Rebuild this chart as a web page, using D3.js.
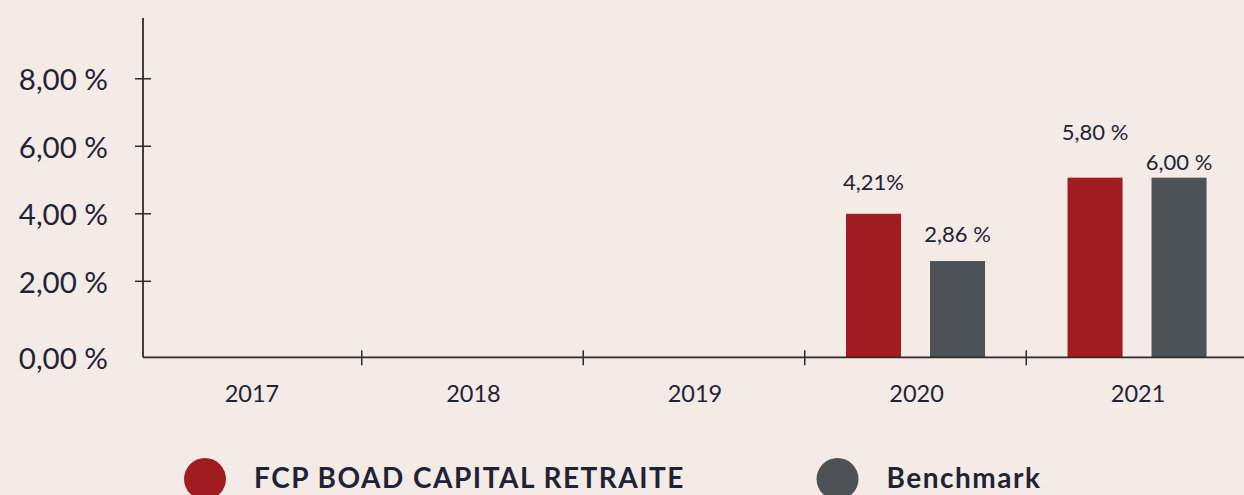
<!DOCTYPE html>
<html>
<head>
<meta charset="utf-8">
<script src="https://cdn.jsdelivr.net/npm/d3@7"></script>
<style>
  html, body { margin: 0; padding: 0; background: #F5EBE6; }
  svg { display: block; }
  text { font-family: Lato, "Noto Sans", sans-serif; fill: #1E2436; }
</style>
</head>
<body>
<svg id="chart" width="1244" height="495"></svg>
<script>
// ---- data ----
const categories = ["2017", "2018", "2019", "2020", "2021"];
const seriesNames = ["FCP BOAD CAPITAL RETRAITE", "Benchmark"];
const fcpValues = [null, null, null, 4.0, 5.07];
const benchmarkValues = [null, null, null, 2.6, 5.07];
const fcpLabels = [null, null, null, "4,21%", "5,80 %"];
const benchmarkLabels = [null, null, null, "2,86 %", "6,00 %"];
const yTickValues = [0, 2, 4, 6, 8];
const yTickLabels = ["0,00 %", "2,00 %", "4,00 %", "6,00 %", "8,00 %"];

// ---- layout ----
const W = 1244, H = 495;
const colors = ["#A01C20", "#4D5256"];
const axisColor = "#2E2A2A";
const svg = d3.select("#chart");
svg.append("rect").attr("width", W).attr("height", H).attr("fill", "#F5EBE6");

const axisX = 143;
const y = d3.scaleLinear().domain([0, 2, 9.8]).range([357.3, 281.3, 18]);
const x0 = d3.scaleBand().domain(categories).range([140.2, 1247.8]);
const x1 = d3.scaleBand().domain(seriesNames).range([0, x0.bandwidth()])
  .paddingInner(0.345).paddingOuter(0.491);

// y axis line
svg.append("line").attr("x1", axisX).attr("x2", axisX)
  .attr("y1", y(0)).attr("y2", y(9.8))
  .attr("stroke", axisColor).attr("stroke-width", 1.8);
// y ticks (skip 0)
yTickValues.forEach((v, i) => {
  if (v !== 0) {
    svg.append("line").attr("x1", axisX - 8).attr("x2", axisX + 8)
      .attr("y1", y(v)).attr("y2", y(v))
      .attr("stroke", axisColor).attr("stroke-width", 1.5);
  }
  svg.append("text").attr("x", 108).attr("y", y(v))
    .attr("text-anchor", "end").attr("dominant-baseline", "central")
    .attr("font-size", 29.5).text(yTickLabels[i]);
});

// bars
const series = [fcpValues, benchmarkValues];
const labels = [fcpLabels, benchmarkLabels];
const labelGap = [[0, 0, 0, 24, 38], [0, 0, 0, 19, 8]];
series.forEach((vals, s) => {
  categories.forEach((c, i) => {
    if (vals[i] == null) return;
    const bx = x0(c) + x1(seriesNames[s]);
    svg.append("rect").attr("x", bx).attr("y", y(vals[i]))
      .attr("width", x1.bandwidth()).attr("height", y(0) - y(vals[i]))
      .attr("fill", colors[s]);
    svg.append("text").attr("x", bx + x1.bandwidth() / 2)
      .attr("y", y(vals[i]) - labelGap[s][i])
      .attr("text-anchor", "middle").attr("font-size", 22)
      .text(labels[s][i]);
  });
});

// x axis line
svg.append("line").attr("x1", axisX).attr("x2", W)
  .attr("y1", y(0)).attr("y2", y(0))
  .attr("stroke", axisColor).attr("stroke-width", 1.8);
categories.forEach((c, i) => {
  if (i > 0) {
    svg.append("line").attr("x1", x0(c)).attr("x2", x0(c))
      .attr("y1", y(0) - 7).attr("y2", y(0) + 8)
      .attr("stroke", axisColor).attr("stroke-width", 1.5);
  }
  svg.append("text").attr("x", x0(c) + x0.bandwidth() / 2 + 1).attr("y", 402)
    .attr("text-anchor", "middle").attr("font-size", 23.5).text(c);
});

// legend
const legendX = [205, 837.5];
seriesNames.forEach((name, s) => {
  svg.append("circle").attr("cx", legendX[s]).attr("cy", 479).attr("r", 21)
    .attr("fill", colors[s]);
  svg.append("text").attr("x", legendX[s] + 49).attr("y", 488)
    .attr("font-size", 28).attr("font-weight", 700)
    .attr("letter-spacing", 1.5).text(name);
});
</script>
</body>
</html>
